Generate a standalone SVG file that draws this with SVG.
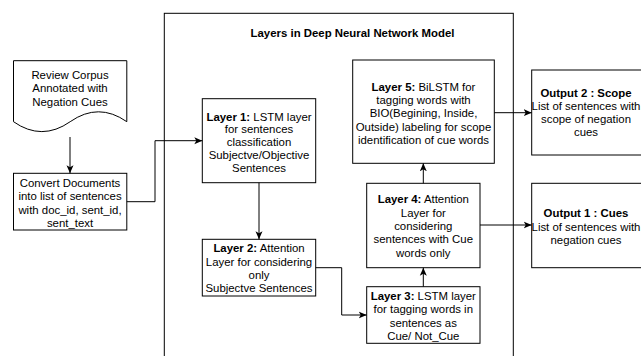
<svg xmlns="http://www.w3.org/2000/svg" width="641" height="356" viewBox="0 0 641 356">
  <defs>
    <style>
      .box { fill: #ffffff; stroke: #000000; stroke-width: 1; }
      .frame { fill: none; stroke: #000000; stroke-width: 1; }
      .edge { fill: none; stroke: #000000; stroke-width: 1; marker-end: url(#arrow); }
      text { font-family: "Liberation Sans", Arial, Helvetica, sans-serif; font-size: 11.4px; fill: #000000; text-anchor: middle; }
      .b { font-weight: bold; }
    </style>
    <marker id="arrow" viewBox="0 -5 10 10" refX="8" refY="0" markerWidth="10" markerHeight="10" markerUnits="userSpaceOnUse" orient="auto">
      <path d="M0,-3.5 L8,0 L0,3.5 L2,0 Z" fill="#000000"/>
    </marker>
  </defs>

  <rect width="641" height="356" fill="#ffffff"/>

  <!-- model container -->
  <g id="model">
    <rect class="frame" x="164.3" y="13.3" width="349" height="370"/>
    <text class="b" x="352.5" y="37">Layers in Deep Neural Network Model</text>
  </g>

  <!-- source document -->
  <g id="corpus">
    <path class="box" d="M13.5,60.7 H126.8 V121.7 Q98.5,101.9 70.2,121.7 Q41.8,141.5 13.5,121.7 Z"/>
    <text x="70" y="79">Review Corpus</text>
    <text x="70" y="92.3">Annotated with</text>
    <text x="70" y="105.5">Negation Cues</text>
  </g>

  <g id="convert">
    <rect class="box" x="13.5" y="173.3" width="113.3" height="56.7"/>
    <text x="70" y="187">Convert Documents</text>
    <text x="70" y="200.3">into list of sentences</text>
    <text x="70" y="213.5">with doc_id, sent_id,</text>
    <text x="70" y="226.5">sent_text</text>
  </g>

  <g id="layer1">
    <rect class="box" x="202.3" y="98.7" width="113.4" height="84"/>
    <text x="259" y="120.7"><tspan class="b">Layer 1:</tspan> LSTM layer</text>
    <text x="259" y="133.4">for sentences</text>
    <text x="259" y="146.1">classification</text>
    <text x="259" y="158.8">Subjectve/Objective</text>
    <text x="259" y="171.5">Sentences</text>
  </g>

  <g id="layer2">
    <rect class="box" x="202.3" y="239.3" width="113.4" height="56.7"/>
    <text x="259" y="252"><tspan class="b">Layer 2:</tspan> Attention</text>
    <text x="259" y="265.5">Layer for considering</text>
    <text x="259" y="279">only</text>
    <text x="259" y="292">Subjectve Sentences</text>
  </g>

  <g id="layer3">
    <rect class="box" x="366.7" y="286.7" width="113.3" height="56.6"/>
    <text x="423.3" y="300"><tspan class="b">Layer 3:</tspan> LSTM layer</text>
    <text x="423.3" y="313.2">for tagging words in</text>
    <text x="423.3" y="326.5">sentences as</text>
    <text x="423.3" y="339.8">Cue/ Not_Cue</text>
  </g>

  <g id="layer4">
    <rect class="box" x="366.7" y="183.3" width="113.3" height="84.4"/>
    <text x="423.3" y="203.3"><tspan class="b">Layer 4:</tspan> Attention</text>
    <text x="423.3" y="216.7">Layer for</text>
    <text x="423.3" y="230">considering</text>
    <text x="423.3" y="243.3">sentences with Cue</text>
    <text x="423.3" y="256.7">words only</text>
  </g>

  <g id="layer5">
    <rect class="box" x="352.7" y="60" width="141.6" height="103.3"/>
    <text x="423.5" y="90.7"><tspan class="b">Layer 5:</tspan> BiLSTM for</text>
    <text x="423.5" y="104">tagging words with</text>
    <text x="423.5" y="117.3">BIO(Begining, Inside,</text>
    <text x="423.5" y="130.7">Outside) labeling for scope</text>
    <text x="423.5" y="144">identification of cue words</text>
  </g>

  <g id="output2">
    <rect class="box" x="531.7" y="70" width="112" height="85"/>
    <text class="b" x="586" y="97.3">Output 2 : Scope</text>
    <text x="586" y="110.3">List of sentences with</text>
    <text x="586" y="123.3">scope of negation</text>
    <text x="586" y="136">cues</text>
  </g>

  <g id="output1">
    <rect class="box" x="531.7" y="183.3" width="112" height="84.4"/>
    <text class="b" x="586" y="217.3">Output 1 : Cues</text>
    <text x="586" y="230.7">List of sentences with</text>
    <text x="586" y="244">negation cues</text>
  </g>

  <!-- connectors -->
  <g id="connectors">
    <path class="edge" d="M70,137 V173.3"/>
    <path class="edge" d="M126.8,201.7 H155 V140.7 H202.3"/>
    <path class="edge" d="M259,182.7 V239.3"/>
    <path class="edge" d="M315.7,267.7 H341.7 V315 H366.7"/>
    <path class="edge" d="M423.3,286.7 V267.7"/>
    <path class="edge" d="M423.3,183.3 V163.3"/>
    <path class="edge" d="M494.3,112.7 H531.7"/>
    <path class="edge" d="M480,225 H531.7"/>
  </g>
</svg>
